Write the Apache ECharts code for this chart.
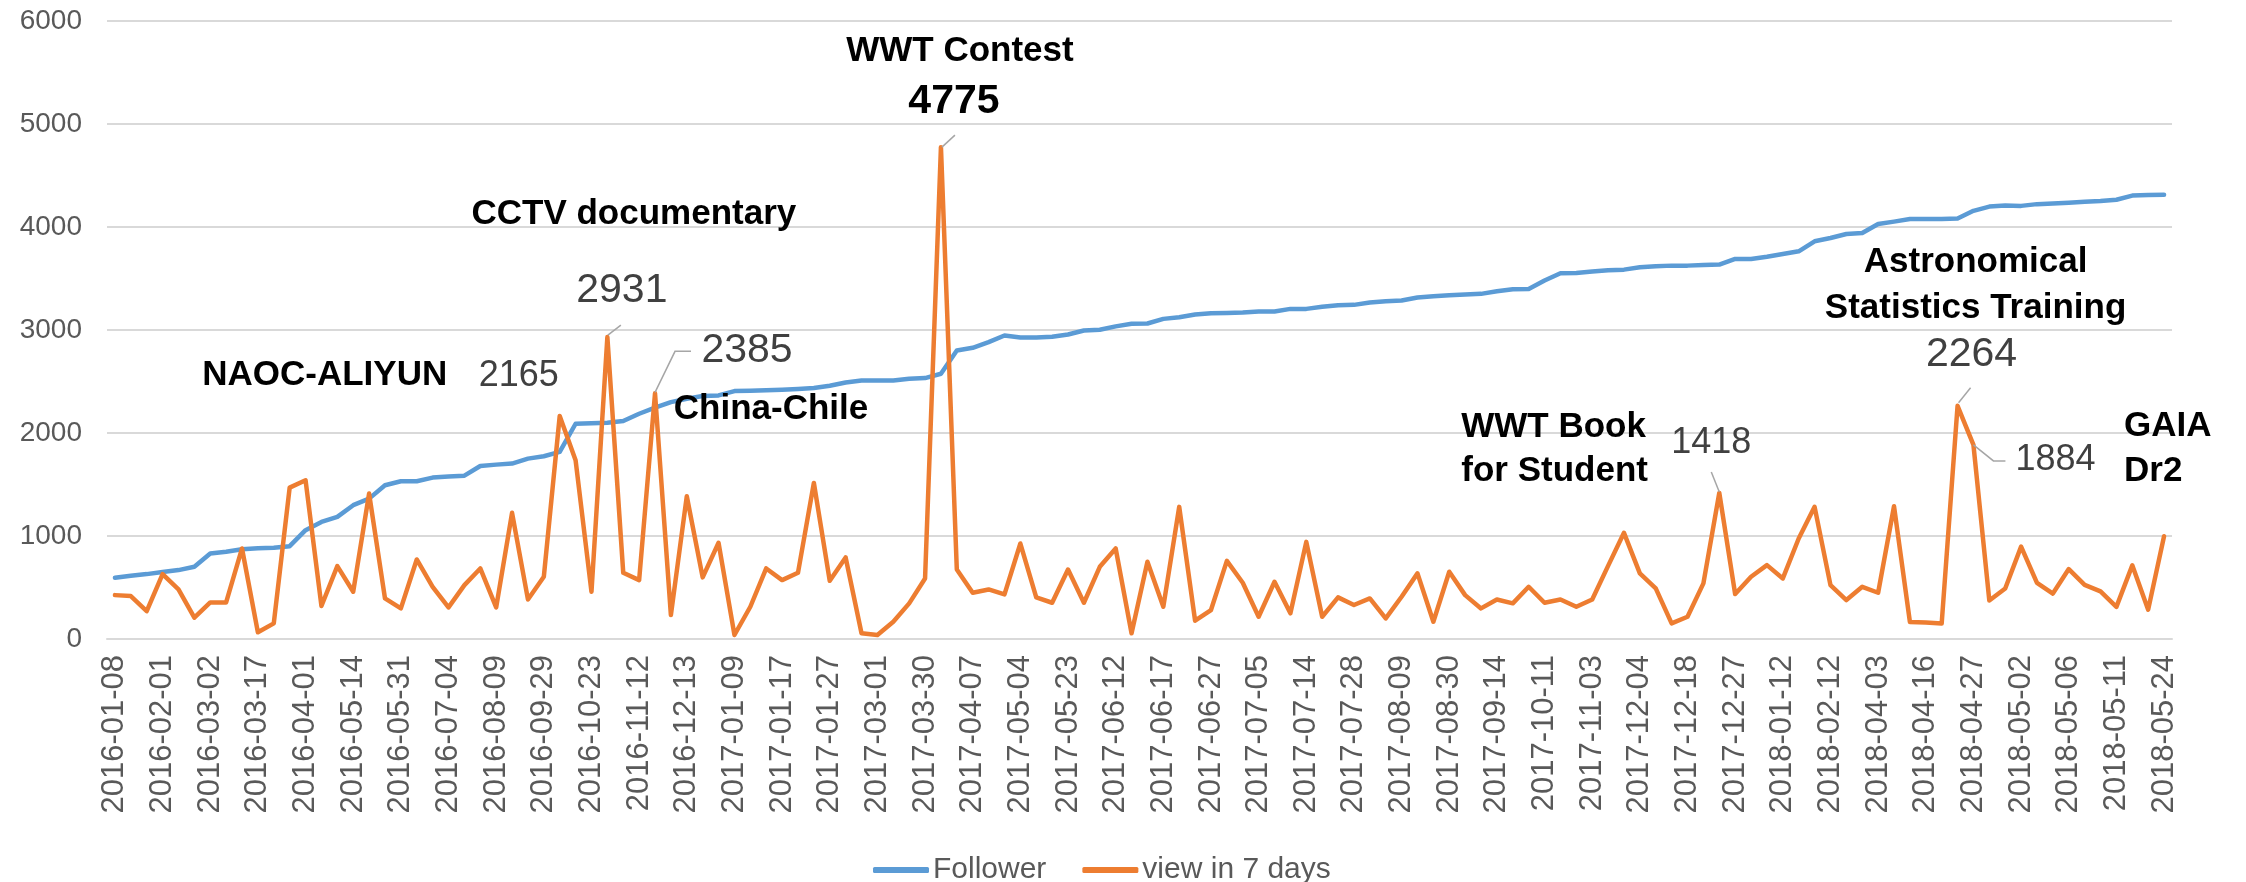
<!DOCTYPE html>
<html><head><meta charset="utf-8">
<script src="https://cdn.jsdelivr.net/npm/echarts@6/dist/echarts.min.js"></script>
<style>html,body{margin:0;padding:0;background:#fff}#c{width:2246px;height:882px}</style>
</head><body><div id="c"></div>
<script>
const tickLabels = ['2016-01-08','2016-02-01','2016-03-02','2016-03-17','2016-04-01','2016-05-14','2016-05-31','2016-07-04','2016-08-09','2016-09-29','2016-10-23','2016-11-12','2016-12-13',
'2017-01-09','2017-01-17','2017-01-27','2017-03-01','2017-03-30','2017-04-07','2017-05-04','2017-05-23','2017-06-12','2017-06-17','2017-06-27','2017-07-05','2017-07-14','2017-07-28','2017-08-09','2017-08-30','2017-09-14','2017-10-11','2017-11-03','2017-12-04','2017-12-18','2017-12-27',
'2018-01-12','2018-02-12','2018-04-03','2018-04-16','2018-04-27','2018-05-02','2018-05-06','2018-05-11','2018-05-24'];

const followers = [594,614,630,650,669,701,830,847,872,882,885,901,1057,1137,1186,1299,1363,1493,1532,1532,
1567,1577,1586,1680,1693,1703,1751,1774,1816,2090,2094,2100,2116,2187,2246,2300,2333,2359,2365,2407,
2410,2414,2420,2427,2436,2459,2491,2510,2510,2510,2527,2533,2575,2801,2827,2882,2947,2927,2927,2934,
2956,2995,3002,3035,3060,3063,3108,3124,3150,3163,3166,3170,3179,3179,3205,3205,3225,3241,3244,3267,
3280,3286,3315,3328,3337,3344,3351,3376,3396,3399,3480,3551,3554,3567,3580,3586,3609,3619,3625,3625,
3632,3635,3690,3690,3712,3738,3764,3861,3893,3932,3942,4029,4052,4078,4078,4078,4082,4157,4198,4208,
4205,4222,4228,4236,4244,4252,4265,4305,4310,4312];

const views = [426,417,271,630,481,207,355,355,879,65,152,1470,1541,320,708,459,1412,394,297,772,
507,307,523,685,307,1225,384,604,2165,1735,459,2931,643,572,2385,233,1386,598,934,39,
313,685,572,643,1515,565,792,55,39,168,346,588,4775,675,449,481,433,927,404,352,
675,352,701,879,55,750,313,1283,178,281,759,546,216,556,249,943,216,404,330,394,
200,410,637,168,653,426,297,384,346,507,352,384,313,384,710,1031,637,491,152,216,
540,1418,436,604,717,588,976,1283,523,378,507,449,1289,166,160,150,2264,1884,374,490,
897,545,441,679,525,462,312,715,285,997];

// every third category carries a tick label
const categories = views.map((_, i) => (i % 3 === 0 ? tickLabels[i / 3] : 'c' + i));

const seriesNames = ['Follower', 'view in 7 days'];

const chart = echarts.init(document.getElementById('c'), null, {renderer: 'canvas'});
const AX = '"Liberation Sans", Arial, sans-serif';

chart.setOption({
  animation: false,
  backgroundColor: '#ffffff',
  grid: {left: 107, right: 74, top: 21, bottom: 243, containLabel: false},
  legend: {
    data: seriesNames, left: 868, top: 850, itemWidth: 56, itemHeight: 6, itemGap: 36,
    icon: 'roundRect',
    textStyle: {fontFamily: AX, fontSize: 30, color: '#595959', padding: [0, 0, 0, -1]}
  },
  xAxis: {
    type: 'category', data: categories, boundaryGap: true,
    axisLine: {lineStyle: {color: '#d9d9d9', width: 2}},
    axisTick: {show: false},
    axisLabel: {
      interval: 2, rotate: 90, margin: 16, color: '#595959', fontFamily: AX, fontSize: 31,
      formatter: (v, i) => (i % 3 === 0 ? tickLabels[i / 3] : '')
    }
  },
  yAxis: {
    type: 'value', min: 0, max: 6000, interval: 1000,
    axisLine: {show: false}, axisTick: {show: false},
    axisLabel: {color: '#595959', fontFamily: AX, fontSize: 28, margin: 25, formatter: v => String(v)},
    splitLine: {lineStyle: {color: '#d9d9d9', width: 2}}
  },
  series: [
    {name: seriesNames[0], type: 'line', data: followers, symbol: 'none', smooth: false,
     lineStyle: {color: '#5B9BD5', width: 4.5, join: 'round', cap: 'round'}, itemStyle: {color: '#5B9BD5'}, z: 2},
    {name: seriesNames[1], type: 'line', data: views, symbol: 'none', smooth: false,
     lineStyle: {color: '#ED7D31', width: 4.5, join: 'round', cap: 'round'}, itemStyle: {color: '#ED7D31'}, z: 3}
  ]
});

// annotations anchored to data points of the view series
const notes = [
  {i: 28, texts: [{t: '{v}', dx: -41, dy: -40, size: 36, color: '#404040'},
                  {t: 'NAOC-ALIYUN', dx: -235, dy: -41, size: 35, bold: true, color: '#000'}]},
  {i: 31, texts: [{t: '{v}', dx: 14.5, dy: -46, size: 41, color: '#404040'},
                  {t: 'CCTV documentary', dx: 26.5, dy: -123, size: 35, bold: true, color: '#000'}],
   leader: [[0.5, -2], [13.5, -12]]},
  {i: 34, texts: [{t: '{v}', dx: 92, dy: -43, size: 41, color: '#404040'},
                  {t: 'China-Chile', dx: 116, dy: 16, size: 35, bold: true, color: '#000'}],
   leader: [[0, -1], [20, -42], [36, -42]]},
  {i: 52, texts: [{t: '{v}', dx: 13, dy: -45, size: 41, bold: true, color: '#000'},
                  {t: 'WWT Contest', dx: 19, dy: -96, size: 35, bold: true, color: '#000'}],
   leader: [[1, 0], [14, -12]]},
  {i: 101, texts: [{t: '{v}', dx: -8, dy: -50, size: 36, color: '#404040'},
                   {t: 'WWT Book', dx: -258, dy: -66, size: 35, bold: true, color: '#000', align: 'left'},
                   {t: 'for Student', dx: -258, dy: -22, size: 35, bold: true, color: '#000', align: 'left'}],
   leader: [[0, -1], [-8, -21]]},
  {i: 116, texts: [{t: '{v}', dx: 14, dy: -51, size: 41, color: '#404040'},
                   {t: 'Astronomical', dx: 18, dy: -143, size: 35, bold: true, color: '#000'},
                   {t: 'Statistics Training', dx: 18, dy: -97, size: 35, bold: true, color: '#000'}],
   leader: [[1, -3], [13, -18]]},
  {i: 117, texts: [{t: '{v}', dx: 82, dy: 15, size: 36, color: '#404040'}],
   leader: [[0, 0], [20, 16], [32, 16]]},
  {i: 129, texts: [{t: 'GAIA', dx: -40, dy: -110, size: 35, bold: true, color: '#000', align: 'left'},
                   {t: 'Dr2', dx: -40, dy: -65, size: 35, bold: true, color: '#000', align: 'left'}]}
];

const graphics = [];
notes.forEach(n => {
  const p = chart.convertToPixel({xAxisIndex: 0, yAxisIndex: 0}, [n.i, views[n.i]]);
  if (n.leader) {
    graphics.push({type: 'polyline', silent: true, z: 10,
      shape: {points: n.leader.map(d => [p[0] + d[0], p[1] + d[1]])},
      style: {stroke: '#a6a6a6', lineWidth: 1.5, fill: null}});
  }
  n.texts.forEach(tx => {
    graphics.push({type: 'text', silent: true, z: 11, x: p[0] + tx.dx, y: p[1] + tx.dy,
      style: {text: tx.t === '{v}' ? String(views[n.i]) : tx.t,
        font: (tx.bold ? 'bold ' : '') + tx.size + 'px ' + AX,
        fill: tx.color, align: tx.align || 'center', verticalAlign: 'middle'}});
  });
});
chart.setOption({graphic: graphics});
</script>
</body></html>
